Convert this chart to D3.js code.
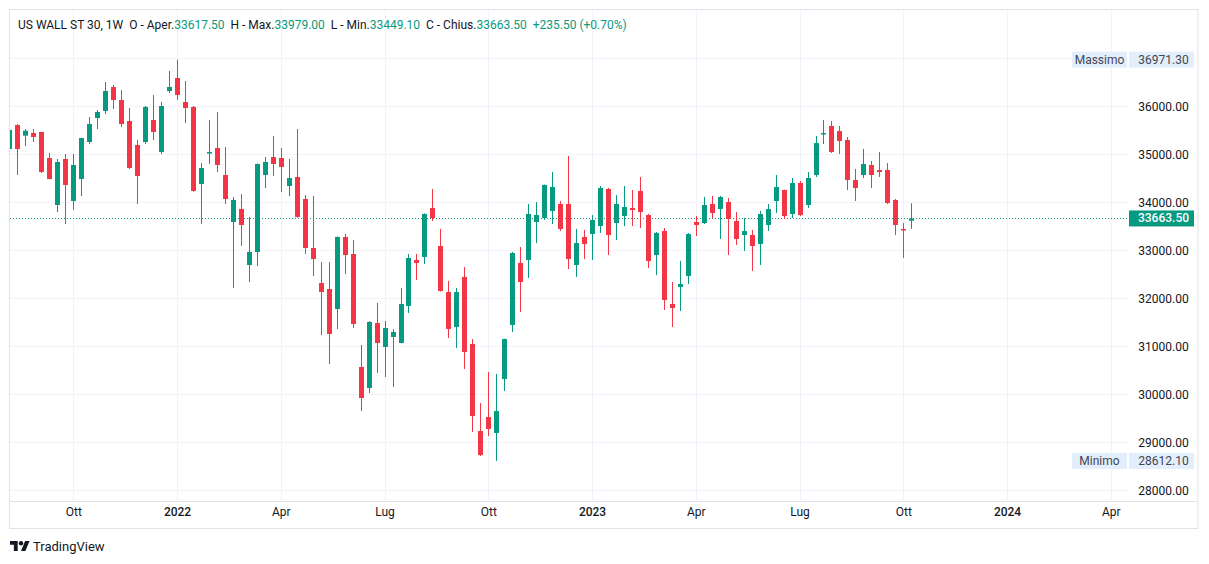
<!DOCTYPE html>
<html>
<head>
<meta charset="utf-8">
<script src="https://cdn.jsdelivr.net/npm/d3@7"></script>
<style>
    body { margin: 0; background: #ffffff; }
    svg { display: block; font-family: Roboto, "Liberation Sans", sans-serif; }
</style>
</head>
<body>
<div id="chart"></div>
<script>
// weekly candles, US WALL ST 30 (1W)
var firstWeek = new Date(2021, 7, 9);
var lastWeek = new Date(2023, 9, 9);

var open = [35110, 35610, 35388, 35444, 35465, 34923, 33944, 34902, 34027, 34486,
    35256, 35756, 35902, 36402, 36131, 35694, 35194, 35256, 35715, 35048,
    36319, 36590, 36090, 35986, 34381, 35034, 35131, 34569, 33590, 33861,
    32694, 32965, 34569, 34944, 34923, 34340, 34527, 34069, 33048, 32319,
    32194, 31777, 33277, 32923, 30569, 30131, 31486, 30986, 31194, 31069,
    31840, 32798, 32861, 33881, 33090, 32131, 31402, 32444, 31048, 29236,
    29527, 29194, 30319, 31444, 32736, 32798, 33590, 33673, 33819, 33965,
    33965, 32694, 33277, 33340, 33506, 34277, 33569, 33715, 33881, 34236,
    33736, 32902, 33402, 31881, 32236, 32465, 33590, 33569, 33965, 33861,
    34006, 33610, 33319, 33319, 33131, 33527, 34027, 34256, 33756, 34402,
    33944, 34569, 35423, 35590, 35485, 35298, 34465, 34569, 34777, 34673,
    34673, 34048, 33444, 33617.5];
var high = [35520, 35630, 35527, 35527, 35470, 35027, 34902, 35006, 35006, 35345,
    35777, 35923, 36506, 36444, 36340, 35965, 35298, 36006, 36235, 36090,
    36735, 36971.3, 36527, 36006, 34819, 35715, 35881, 35152, 34111, 34173,
    33694, 34810, 34944, 35381, 35131, 34902, 35527, 34152, 34131, 32756,
    32756, 33290, 33340, 33215, 31027, 31527, 31902, 31527, 31361, 32215,
    32923, 32923, 33770, 34277, 33444, 32361, 32215, 32652, 31152, 29819,
    30465, 30423, 31160, 32965, 33069, 33965, 34006, 34370, 34631, 34027,
    34965, 33444, 33423, 33736, 34340, 34298, 34152, 34340, 34256, 34527,
    33757, 33381, 33465, 32340, 32777, 33361, 33715, 34110, 34131, 34131,
    34090, 33798, 33673, 33423, 33819, 33965, 34569, 34265, 34506, 34444,
    34631, 35381, 35715, 35694, 35590, 35360, 34694, 35110, 34860, 35048,
    34819, 34069, 33569, 33979];
var low = [35097, 34569, 35173, 35256, 34611, 34480, 33798, 33548, 33840, 34131,
    35215, 35527, 35840, 35944, 35569, 34694, 33965, 35215, 35298, 35006,
    36277, 36131, 35652, 34220, 33548, 34798, 34631, 33965, 32215, 33090,
    32340, 32673, 34298, 34548, 34215, 34131, 33680, 32923, 32465, 31236,
    30631, 31361, 32506, 31381, 29652, 30027, 30444, 30361, 30152, 31060,
    31694, 32381, 32715, 33611, 32140, 31173, 30965, 30527, 29215, 28715,
    29131, 28612.1, 30069, 31298, 31715, 32423, 33152, 33631, 33548, 33402,
    32611, 32444, 32819, 32798, 33361, 32902, 33215, 33506, 33506, 33465,
    32631, 32486, 31756, 31402, 31736, 32298, 33298, 33548, 33673, 33236,
    32902, 33110, 32986, 32569, 32694, 33402, 33777, 33652, 33673, 33715,
    33881, 34527, 35215, 35027, 35006, 34256, 34027, 34506, 34298, 34527,
    33965, 33319, 32840, 33449.1];
var close = [35506, 35110, 35492, 35360, 34631, 34485, 34840, 34361, 34777, 35340,
    35631, 35881, 36319, 36131, 35631, 34715, 34548, 35986, 35465, 36006,
    36402, 36235, 35965, 34236, 34715, 35048, 34777, 34069, 34048, 33527,
    32965, 34798, 34840, 34798, 34735, 34506, 33694, 33048, 32819, 32131,
    31257, 33277, 32902, 31465, 29923, 31506, 31069, 31381, 31298, 31881,
    32840, 32736, 33756, 33673, 32152, 31361, 32131, 30881, 29548, 28736,
    29277, 29652, 31152, 32944, 32340, 33756, 33736, 34361, 34319, 33444,
    32819, 33152, 33131, 33631, 34298, 33319, 33965, 33902, 33840, 33798,
    32777, 33361, 31965, 31798, 32298, 33340, 33527, 33944, 33777, 34110,
    33652, 33236, 33402, 33090, 33756, 33861, 34319, 33715, 34402, 33735,
    34506, 35235, 35444, 35048, 35277, 34465, 34298, 34798, 34569, 34631,
    33985, 33527, 33428, 33663.5];

var priceTicks = [28000, 29000, 30000, 31000, 32000, 33000, 34000, 35000, 36000];
var gridPrices = [28000, 29000, 30000, 31000, 32000, 33000, 34000, 35000, 36000, 37000];
var monthNames = ["Gen", "Feb", "Mar", "Apr", "Mag", "Giu", "Lug", "Ago", "Set", "Ott", "Nov", "Dic"];
var tickMonths = ["2021-10", "2022-01", "2022-04", "2022-07", "2022-10", "2023-01",
    "2023-04", "2023-07", "2023-10", "2024-01", "2024-04"];

var lastPrice = 33663.5;
var maxPrice = 36971.3;
var minPrice = 28612.1;
var header = [
    ["US WALL ST 30, 1W  O - Aper.", "label"], ["33617.50", "value"],
    ["  H - Max.", "label"], ["33979.00", "value"],
    ["  L - Min.", "label"], ["33449.10", "value"],
    ["  C - Chius.", "label"], ["33663.50", "value"],
    ["  +235.50 (+0.70%)", "value"]
];

var upColor = "#089981", downColor = "#f23645";
var gridColor = "#f0f3fa", borderColor = "#e0e3eb", textColor = "#131722";

var width = 1209, height = 564;
var pane = {left: 10, top: 10, right: 1128, bottom: 501.5};

var weeks = d3.timeMonday.range(firstWeek, d3.timeDay.offset(lastWeek, 1));
var candles = weeks.map(function(d, i) {
    return {date: d, o: open[i], h: high[i], l: low[i], c: close[i]};
});

// bars sit on their monday; month ticks land on the first monday of the month
var x = d3.scaleTime()
    .domain([new Date(2021, 9, 4), new Date(2023, 9, 2)])
    .range([73.3, 903.3]);
var y = d3.scaleLinear()
    .domain([28000, 36000])
    .range([490.3, 106.3]);

var svg = d3.select("#chart").append("svg")
    .attr("width", width)
    .attr("height", height);

svg.append("rect").attr("width", width).attr("height", height).attr("fill", "#ffffff");

svg.append("clipPath").attr("id", "paneClip")
    .append("rect")
    .attr("x", pane.left).attr("y", pane.top)
    .attr("width", pane.right - pane.left).attr("height", pane.bottom - pane.top);

var tickDates = tickMonths.map(function(s) {
    var p = s.split("-");
    return d3.timeMonday.ceil(new Date(+p[0], +p[1] - 1, 1));
});

// grid
var grid = svg.append("g").attr("clip-path", "url(#paneClip)");
grid.selectAll(".hgrid")
    .data(gridPrices)
    .enter().append("line")
    .attr("x1", pane.left).attr("x2", pane.right)
    .attr("y1", function(d) { return Math.round(y(d)) + 0.5; })
    .attr("y2", function(d) { return Math.round(y(d)) + 0.5; })
    .attr("stroke", gridColor);
grid.selectAll(".vgrid")
    .data(tickDates)
    .enter().append("line")
    .attr("x1", function(d) { return Math.round(x(d)) + 0.5; })
    .attr("x2", function(d) { return Math.round(x(d)) + 0.5; })
    .attr("y1", pane.top).attr("y2", pane.bottom)
    .attr("stroke", gridColor);

// last price dotted line
svg.append("line")
    .attr("x1", pane.left).attr("x2", pane.right)
    .attr("y1", Math.round(y(lastPrice)) + 0.5)
    .attr("y2", Math.round(y(lastPrice)) + 0.5)
    .attr("stroke", upColor)
    .attr("stroke-dasharray", "1,2");

// candles
var bodyWidth = 5;
var candle = svg.append("g").attr("clip-path", "url(#paneClip)")
    .selectAll(".candle")
    .data(candles)
    .enter().append("g")
    .attr("class", "candle")
    .attr("fill", function(d) { return d.c >= d.o ? upColor : downColor; });

// wick
candle.append("rect")
    .attr("x", function(d) { return Math.round(x(d.date)); })
    .attr("width", 1)
    .attr("y", function(d) { return y(d.h); })
    .attr("height", function(d) { return Math.max(1, y(d.l) - y(d.h)); });

// body
candle.append("rect")
    .attr("x", function(d) { return Math.round(x(d.date)) - (bodyWidth - 1) / 2; })
    .attr("width", bodyWidth)
    .attr("y", function(d) { return y(Math.max(d.o, d.c)); })
    .attr("height", function(d) { return Math.max(1.5, Math.abs(y(d.o) - y(d.c))); });

// price axis
var yAxis = svg.append("g")
    .attr("transform", "translate(1163.5,0)")
    .call(d3.axisRight(y).tickValues(priceTicks).tickSize(0).tickPadding(0)
        .tickFormat(function(d) { return d3.format(".2f")(d); }));
yAxis.select(".domain").remove();
yAxis.selectAll("text")
    .attr("text-anchor", "middle")
    .attr("font-family", "Roboto, sans-serif")
    .attr("font-size", 12)
    .attr("fill", textColor);

// time axis
var xAxis = svg.append("g")
    .attr("transform", "translate(0,507)")
    .call(d3.axisBottom(x).tickValues(tickDates).tickSize(0).tickPadding(0)
        .tickFormat(function(d) {
            return d.getMonth() === 0 ? d.getFullYear() : monthNames[d.getMonth()];
        }));
xAxis.select(".domain").remove();
xAxis.selectAll("text")
    .attr("font-family", "Roboto, sans-serif")
    .attr("font-size", 12)
    .attr("fill", textColor)
    .attr("font-weight", function(d) { return d.getMonth() === 0 ? 500 : 400; });

// axis separator and outer frame
svg.append("line")
    .attr("x1", 10).attr("x2", 1198)
    .attr("y1", 501.5).attr("y2", 501.5)
    .attr("stroke", borderColor);
svg.append("rect")
    .attr("x", 9.5).attr("y", 9.5)
    .attr("width", 1188.5).attr("height", 519)
    .attr("fill", "none")
    .attr("stroke", borderColor);

// max / min / last price labels on the scale
function scaleLabel(value, name, fill, color) {
    var cy = y(value);
    if (name) {
        svg.append("rect")
            .attr("x", 1072).attr("y", cy - 8)
            .attr("width", 55).attr("height", 16)
            .attr("fill", fill);
        svg.append("text")
            .attr("x", 1099.5).attr("y", cy + 4)
            .attr("text-anchor", "middle")
            .attr("font-size", 12)
            .attr("fill", color)
            .text(name);
    }
    svg.append("rect")
        .attr("x", 1129).attr("y", cy - 8)
        .attr("width", 65).attr("height", 16)
        .attr("fill", fill);
    svg.append("text")
        .attr("x", 1163.5).attr("y", cy + 4)
        .attr("text-anchor", "middle")
        .attr("font-size", 12)
        .attr("fill", name ? color : "#ffffff")
        .attr("font-weight", name ? 400 : 500)
        .text(d3.format(".2f")(value));
}
scaleLabel(maxPrice, "Massimo", "#e3eefc", "#434651");
scaleLabel(minPrice, "Minimo", "#e3eefc", "#434651");
scaleLabel(lastPrice, null, upColor, "#ffffff");

// legend line at the top
var legend = svg.append("text")
    .attr("x", 18).attr("y", 29)
    .attr("font-size", 12)
    .attr("xml:space", "preserve")
    .style("white-space", "pre");
legend.selectAll("tspan")
    .data(header)
    .enter().append("tspan")
    .attr("fill", function(d) { return d[1] === "value" ? upColor : textColor; })
    .text(function(d) { return d[0]; });

// TradingView logo
var logo = svg.append("g").attr("transform", "translate(10,538.8) scale(0.55)").attr("fill", textColor);
logo.append("path").attr("d", "M14 22H7V11H0V4h14v18zM28 22h-8l7.5-18h8L28 22z");
logo.append("circle").attr("cx", 20).attr("cy", 8).attr("r", 4);
svg.append("text")
    .attr("x", 33).attr("y", 551)
    .attr("font-size", 13)
    .attr("fill", textColor)
    .text("TradingView");
</script>
</body>
</html>
